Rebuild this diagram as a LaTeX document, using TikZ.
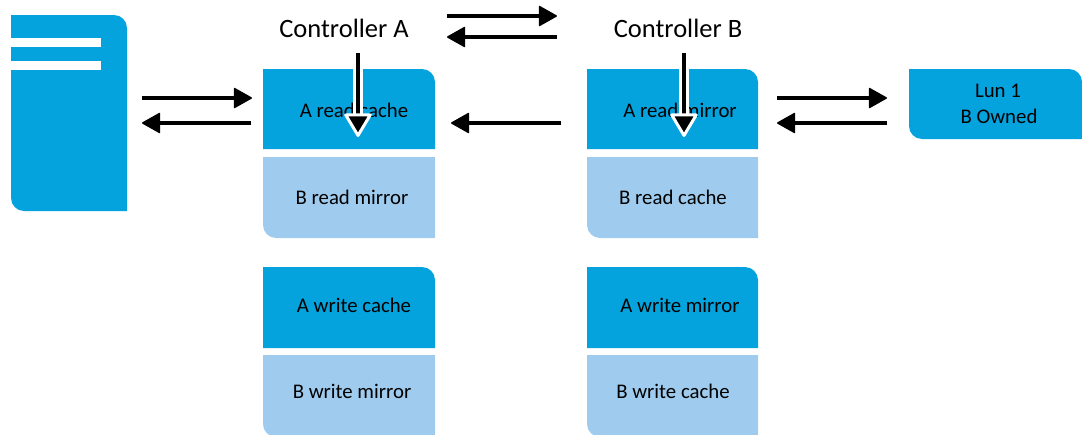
\documentclass[tikz,border=0pt]{standalone}
\usepackage{fontspec}
\setmainfont{Carlito}
\usetikzlibrary{arrows.meta}
\definecolor{cachedark}{HTML}{05A3DD}
\definecolor{cachelight}{HTML}{9FCCEE}
\tikzset{
    flow/.style={black,line width=4.5pt,-{Triangle[length=19pt,width=21pt,round,line width=1.5pt]}},
    flowcase/.style={white,line width=10.5pt},
    flowdrop/.style={black,line width=4.5pt,-{Triangle[length=25pt,width=29pt,round,line width=3pt,color=white,fill=black]}},
    title/.style={black,font=\fontsize{26.5}{26.5}\selectfont,inner sep=0pt},
    label/.style={black,font=\fontsize{20.8}{20.8}\selectfont,inner sep=0pt},
    arc/.style={rounded corners=13pt}
}
\begin{document}
\begin{tikzpicture}[x=1pt,y=-1pt]
    \useasboundingbox (0,0) rectangle (1082,434);
    % host
    \fill[cachedark] (11,100) -- (11,15) [arc] -- (127,15) [sharp corners] -- (127,211) [arc] -- (11,211) [sharp corners] -- cycle;
    \fill[white] (11,38) rectangle (101,47);
    \fill[white] (11,61) rectangle (101,70);
    % controller A blocks
    \fill[cachedark] (263,149) -- (263,69) [arc] -- (435,69) [sharp corners] -- (435,149) -- cycle;
    \fill[cachelight] (435,157) -- (263,157) [arc] -- (263,238) [sharp corners] -- (435,238) -- cycle;
    \fill[cachedark] (263,348) -- (263,267) [arc] -- (435,267) [sharp corners] -- (435,348) -- cycle;
    \fill[cachelight] (435,355) -- (263,355) [arc] -- (263,437) [sharp corners] -- (435,437) -- cycle;
    % controller B blocks
    \fill[cachedark] (587,149) -- (587,69) [arc] -- (758,69) [sharp corners] -- (758,149) -- cycle;
    \fill[cachelight] (758,157) -- (587,157) [arc] -- (587,238) [sharp corners] -- (758,238) -- cycle;
    \fill[cachedark] (587,348) -- (587,267) [arc] -- (758,267) [sharp corners] -- (758,348) -- cycle;
    \fill[cachelight] (758,355) -- (587,355) [arc] -- (587,437) [sharp corners] -- (758,437) -- cycle;
    % lun
    \fill[cachedark] (1000,69) -- (909,69) [arc] -- (909,139) [sharp corners] -- (1082,139) [arc] -- (1082,69) [sharp corners] -- cycle;
    % labels
    \node[title] (ctrla) at (344,28) {Controller A};
    \node[title] (ctrlb) at (678,28) {Controller B};
    \node[label] (readcachea) at (354,110) {A read cache};
    \node[label] (readmirrorb) at (352,197) {B read mirror};
    \node[label] (writecachea) at (354,305) {A write cache};
    \node[label] (writemirrorb) at (352,391) {B write mirror};
    \node[label] (readmirrora) at (680,110) {A read mirror};
    \node[label] (readcacheb) at (673,197) {B read cache};
    \node[label] (writemirrora) at (680,305) {A write mirror};
    \node[label] (writecacheb) at (673,391) {B write cache};
    \node[label] (lunname) at (998,91) {Lun 1};
    \node[label] (lunowner) at (999,116) {B Owned};
    % arrow ends
    \coordinate (hostr) at (142,98);
    \coordinate (cachel) at (252,98);
    \coordinate (cachelb) at (251,123);
    \coordinate (hostrb) at (142,123);
    \coordinate (linka) at (447,16);
    \coordinate (linkb) at (557,16);
    \coordinate (linkbb) at (557,37);
    \coordinate (linkab) at (447,37);
    \coordinate (mirrorl) at (561,123);
    \coordinate (cacher) at (451,123);
    \coordinate (mirrorr) at (777,98);
    \coordinate (lunl) at (887,98);
    \coordinate (lunlb) at (887,123);
    \coordinate (mirrorrb) at (777,123);
    \coordinate (dropa) at (358,53);
    \coordinate (tipa) at (358,137);
    \coordinate (dropb) at (684,53);
    \coordinate (tipb) at (684,137);
    \coordinate (casea) at (358,118);
    \coordinate (caseb) at (684,118);
    % arrows
    \draw[flow] (hostr) -- (cachel);
    \draw[flow] (cachelb) -- (hostrb);
    \draw[flow] (linka) -- (linkb);
    \draw[flow] (linkbb) -- (linkab);
    \draw[flow] (mirrorl) -- (cacher);
    \draw[flow] (mirrorr) -- (lunl);
    \draw[flow] (lunlb) -- (mirrorrb);
    \draw[flowcase] (dropa) -- (casea);
    \draw[flowcase] (dropb) -- (caseb);
    \draw[flowdrop] (dropa) -- (tipa);
    \draw[flowdrop] (dropb) -- (tipb);
\end{tikzpicture}
\end{document}
